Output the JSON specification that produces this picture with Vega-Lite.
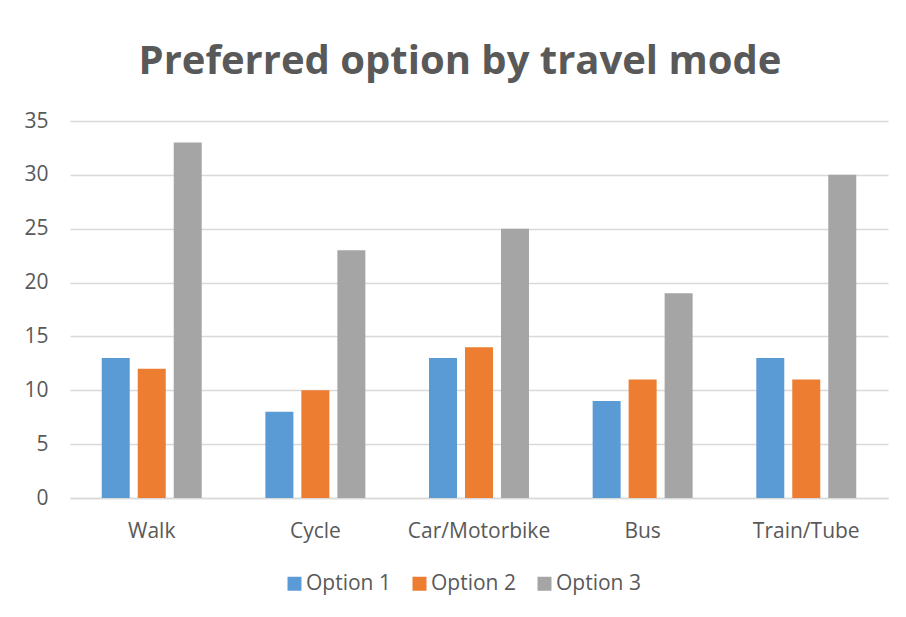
{
  "$schema": "https://vega.github.io/schema/vega-lite/v6.json",
  "autosize": {"type": "none"},
  "padding": {"left": 70, "top": 121, "right": 18, "bottom": 119},
  "width": 818,
  "height": 377,
  "background": "white",
  "title": {
    "text": "Preferred option by travel mode",
    "font": "Open Sans",
    "fontSize": 40,
    "fontWeight": "bold",
    "color": "#595959",
    "anchor": "middle",
    "dx": -19,
    "offset": 28
  },
  "data": {
    "values": [
      {"mode": "Walk", "option": "Option 1", "value": 13},
      {"mode": "Walk", "option": "Option 2", "value": 12},
      {"mode": "Walk", "option": "Option 3", "value": 33},
      {"mode": "Cycle", "option": "Option 1", "value": 8},
      {"mode": "Cycle", "option": "Option 2", "value": 10},
      {"mode": "Cycle", "option": "Option 3", "value": 23},
      {"mode": "Car/Motorbike", "option": "Option 1", "value": 13},
      {"mode": "Car/Motorbike", "option": "Option 2", "value": 14},
      {"mode": "Car/Motorbike", "option": "Option 3", "value": 25},
      {"mode": "Bus", "option": "Option 1", "value": 9},
      {"mode": "Bus", "option": "Option 2", "value": 11},
      {"mode": "Bus", "option": "Option 3", "value": 19},
      {"mode": "Train/Tube", "option": "Option 1", "value": 13},
      {"mode": "Train/Tube", "option": "Option 2", "value": 11},
      {"mode": "Train/Tube", "option": "Option 3", "value": 30}
    ]
  },
  "mark": {"type": "bar"},
  "encoding": {
    "x": {
      "field": "mode",
      "type": "nominal",
      "sort": ["Walk", "Cycle", "Car/Motorbike", "Bus", "Train/Tube"],
      "scale": {"paddingInner": 0.389, "paddingOuter": 0.194},
      "axis": {
        "title": null,
        "labelAngle": 0,
        "labelFont": "Open Sans",
        "labelFontSize": 21,
        "labelColor": "#595959",
        "labelPadding": 22,
        "ticks": false,
        "domainColor": "#d9d9d9",
        "domainWidth": 1.5
      }
    },
    "xOffset": {
      "field": "option",
      "type": "nominal",
      "scale": {"paddingInner": 0.222, "paddingOuter": 0}
    },
    "y": {
      "field": "value",
      "type": "quantitative",
      "scale": {"domain": [0, 35]},
      "axis": {
        "title": null,
        "values": [0, 5, 10, 15, 20, 25, 30, 35],
        "labelFont": "Open Sans",
        "labelFontSize": 21,
        "labelColor": "#595959",
        "labelPadding": 22,
        "ticks": false,
        "domain": false,
        "gridColor": "#d9d9d9",
        "gridWidth": 1.5
      }
    },
    "color": {
      "field": "option",
      "type": "nominal",
      "scale": {
        "domain": ["Option 1", "Option 2", "Option 3"],
        "range": ["#5B9BD5", "#ED7D31", "#A5A5A5"]
      },
      "legend": {
        "title": null,
        "orient": "none",
        "legendX": 214,
        "legendY": 452,
        "direction": "horizontal",
        "symbolType": "square",
        "symbolSize": 196,
        "symbolStrokeWidth": 0,
        "symbolOffset": 0,
        "labelOffset": 1,
        "labelFont": "Open Sans",
        "labelFontSize": 21,
        "labelColor": "#595959",
        "columnPadding": 18,
        "padding": 0
      }
    }
  },
  "config": {
    "view": {"stroke": null}
  }
}
